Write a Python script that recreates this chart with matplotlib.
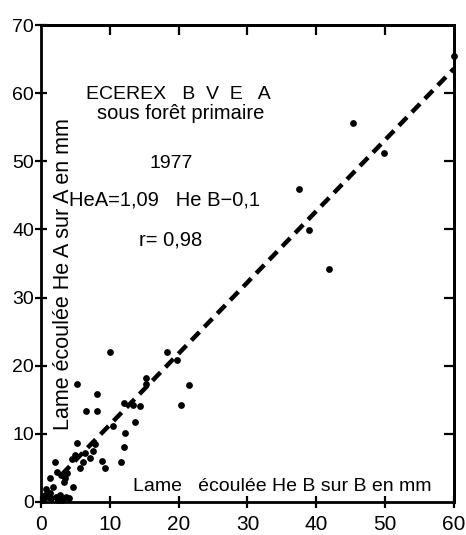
import numpy as np
import matplotlib.pyplot as plt

plt.rcParams['font.family'] = ['Liberation Sans', 'DejaVu Sans']

# --- données ---
# Lame écoulée He B (mm) en abscisse, He A (mm) en ordonnée
he_b = [60.0, 45.3, 49.9, 37.5, 38.9, 41.8,
        10.0, 18.3, 19.8, 21.5, 20.4, 8.2, 5.2, 6.5, 8.2,
        15.3, 15.2, 12.0, 13.4, 14.4, 13.6, 10.5, 12.2, 12.1, 11.6,
        7.9, 7.6, 6.4, 7.1, 8.9, 9.3, 5.2, 5.0, 4.5, 6.1, 5.7,
        2.0, 3.8, 2.3, 2.9, 3.5, 1.3, 4.6, 3.4, 1.7, 0.7,
        0.6, 1.0, 1.5, 1.3, 2.2, 2.8, 3.2, 3.6, 4.1, 0.3, 2.5, 3.0]
he_a = [65.5, 55.7, 51.2, 46.0, 39.9, 34.2,
        22.0, 22.0, 20.9, 17.2, 14.2, 15.8, 17.3, 13.3, 13.3,
        18.2, 17.3, 14.5, 14.2, 14.0, 11.7, 11.2, 10.1, 8.1, 5.9,
        8.5, 7.5, 7.2, 6.4, 6.0, 5.0, 8.6, 6.9, 6.3, 5.9, 5.0,
        5.9, 4.2, 4.4, 4.0, 3.5, 3.5, 2.2, 2.9, 2.2, 1.9,
        1.0, 0.7, 0.6, 1.3, 0.7, 1.0, 0.6, 0.7, 0.6, 0.3, 0.3, 0.2]

# droite de régression (extrémités lues)
reg_x = [3.0, 60.0]
reg_y = [4.0, 63.6]

x_ticks = [0, 10, 20, 30, 40, 50, 60]
y_ticks = [0, 10, 20, 30, 40, 50, 60, 70]

# --- figure ---
fig = plt.figure(figsize=(4.66, 5.35), dpi=100)
ax = fig.add_axes([0.088, 0.062, 0.886, 0.891])

ax.plot(reg_x, reg_y, color='black', lw=3.2, ls=(0, (2.6, 1.6)),
        solid_capstyle='butt', dash_capstyle='butt')
ax.scatter(he_b, he_a, s=15, color='black', zorder=3, clip_on=False)

ax.set_xlim(0, 60)
ax.set_ylim(0, 70)
ax.set_xticks(x_ticks)
ax.set_yticks(y_ticks)
for s in ax.spines.values():
    s.set_linewidth(2)
ax.tick_params(axis='x', direction='inout', length=9, width=1.6,
               labelsize=15, pad=5)
ax.tick_params(axis='y', direction='inout', length=8, width=1.6,
               labelsize=14, pad=1)

# ticks intérieurs en haut et à droite
top = ax.secondary_xaxis('top')
top.set_xticks(x_ticks[1:-1])
top.tick_params(direction='in', length=7, width=1.6, labeltop=False)
top.spines['top'].set_linewidth(2)
right = ax.secondary_yaxis('right')
right.set_yticks(y_ticks[1:-1])
right.tick_params(direction='in', length=7, width=1.6, labelright=False)
right.spines['right'].set_linewidth(2)

# textes
ax.text(20.0, 59.8, 'ECEREX   B  V  E   A', ha='center', va='center', fontsize=14)
ax.text(20.3, 57.0, 'sous forêt primaire', ha='center', va='center', fontsize=14.5)
ax.text(18.9, 49.7, '1977', ha='center', va='center', fontsize=14)
ax.text(18.0, 44.3, 'HeA=1,09   He B−0,1', ha='center', va='center', fontsize=14.5)
ax.text(18.8, 38.4, 'r= 0,98', ha='center', va='center', fontsize=14.5)

ax.text(3.2, 33.4, 'Lame écoulée He A sur A en mm', rotation=90,
        ha='center', va='center', fontsize=15.5)
ax.text(35.0, 2.3, 'Lame   écoulée He B sur B en mm', ha='center',
        va='center', fontsize=14)

plt.savefig('out.png', dpi=100)
